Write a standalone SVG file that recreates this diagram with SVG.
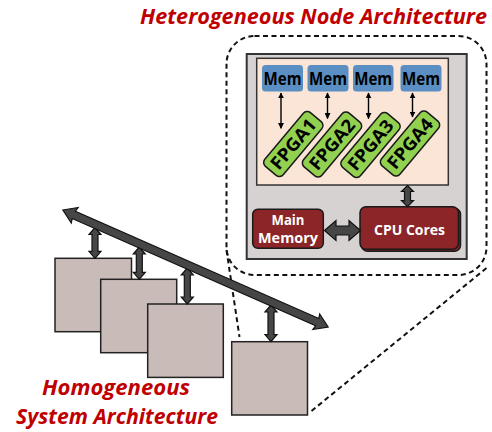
<svg xmlns="http://www.w3.org/2000/svg" width="492" height="432" viewBox="0 0 492 432">
  <style>
    text { font-family: "Open Sans", "Liberation Sans", Arial, sans-serif; font-weight: bold; }
    .title { fill: #c00000; font-style: italic; font-size: 22px; }
    .node-sq { fill: #c9bcb8; stroke: #222; stroke-width: 1.5; }
    .mem rect { fill: #5b8fc3; }
    .mem text { fill: #000; font-size: 17px; text-anchor: middle; }
    .fpga rect { fill: #92d050; stroke: #1a1a1a; stroke-width: 1.5; }
    .fpga text { fill: #000; font-size: 18px; text-anchor: middle; }
    .dram rect { fill: #8b2527; stroke: #1a1a1a; stroke-width: 1.5; }
    .dram text { fill: #fff; font-size: 13.5px; text-anchor: middle; }
    .fat { fill: #464646; stroke: #111; stroke-width: 1.2; stroke-linejoin: miter; }
    .thin { stroke: #000; stroke-width: 1.4; fill: none; marker-start: url(#tip); marker-end: url(#tip); }
    .dash { fill: none; stroke: #111; stroke-width: 2; stroke-dasharray: 5 3.5; }
  </style>
  <defs>
    <marker id="tip" viewBox="0 0 10 10" refX="9" refY="5" markerWidth="6" markerHeight="6" orient="auto-start-reverse" markerUnits="userSpaceOnUse">
      <path d="M0,0 L10,5 L0,10 Z" fill="#000"/>
    </marker>
  </defs>

  <rect width="492" height="432" fill="#fff"/>

  <!-- titles -->
  <text class="title" x="140" y="24" textLength="347" lengthAdjust="spacingAndGlyphs">Heterogeneous Node Architecture</text>
  <text class="title" x="116" y="395" text-anchor="middle" font-size="21" textLength="148" lengthAdjust="spacingAndGlyphs">Homogeneous</text>
  <text class="title" x="117" y="423.5" text-anchor="middle" font-size="21" textLength="202" lengthAdjust="spacingAndGlyphs">System Architecture</text>

  <!-- zoom call-out outline -->
  <g id="callout">
    <rect class="dash" x="226.5" y="36" width="260" height="239" rx="28"/>
    <line class="dash" x1="226.5" y1="250" x2="239.5" y2="337"/>
    <line class="dash" x1="311.5" y1="411" x2="486.5" y2="268"/>
  </g>

  <!-- node enclosure -->
  <g id="node">
    <rect x="246.7" y="54" width="220" height="205" fill="#d7d2d2" stroke="#333" stroke-width="2"/>
    <rect x="256.7" y="58.3" width="191.6" height="126.7" fill="#fbe5d6" stroke="#333" stroke-width="1.5"/>
  </g>

  <!-- local memories -->
  <g id="mem1" class="mem"><rect x="262" y="65" width="41" height="26.5" rx="3.5"/><text x="282.5" y="84.5" textLength="38" lengthAdjust="spacingAndGlyphs">Mem</text></g>
  <g id="mem2" class="mem"><rect x="307.5" y="65" width="41" height="26.5" rx="3.5"/><text x="328" y="84.5" textLength="38" lengthAdjust="spacingAndGlyphs">Mem</text></g>
  <g id="mem3" class="mem"><rect x="353" y="65" width="40.5" height="26.5" rx="3.5"/><text x="373.2" y="84.5" textLength="38" lengthAdjust="spacingAndGlyphs">Mem</text></g>
  <g id="mem4" class="mem"><rect x="400.5" y="65" width="41" height="26.5" rx="3.5"/><text x="421" y="84.5" textLength="38" lengthAdjust="spacingAndGlyphs">Mem</text></g>

  <!-- accelerators -->
  <g id="fpga1" class="fpga" transform="translate(293.3,144) rotate(-50)"><rect x="-35" y="-12" width="70" height="24" rx="5"/><text x="0" y="6.3" textLength="60" lengthAdjust="spacingAndGlyphs">FPGA1</text></g>
  <g id="fpga2" class="fpga" transform="translate(332,144.5) rotate(-50)"><rect x="-35" y="-12" width="70" height="24" rx="5"/><text x="0" y="6.3" textLength="60" lengthAdjust="spacingAndGlyphs">FPGA2</text></g>
  <g id="fpga3" class="fpga" transform="translate(370.5,145) rotate(-50)"><rect x="-35" y="-12" width="70" height="24" rx="5"/><text x="0" y="6.3" textLength="60" lengthAdjust="spacingAndGlyphs">FPGA3</text></g>
  <g id="fpga4" class="fpga" transform="translate(410,143.5) rotate(-50)"><rect x="-35" y="-12" width="70" height="24" rx="5"/><text x="0" y="6.3" textLength="60" lengthAdjust="spacingAndGlyphs">FPGA4</text></g>

  <!-- host side -->
  <g id="main-memory" class="dram"><rect x="252.7" y="209.3" width="70.6" height="39" rx="5"/><text x="288" y="224.5" textLength="33" lengthAdjust="spacingAndGlyphs">Main</text><text x="288" y="243" textLength="60" lengthAdjust="spacingAndGlyphs">Memory</text></g>
  <g id="cpu-cores" class="dram">
    <rect x="361.5" y="208.2" width="99" height="43" rx="6" fill="#6a1a1c" stroke="#6a6060"/>
    <rect x="360" y="206.7" width="98.5" height="42.5" rx="6"/>
    <text x="409.5" y="234.5" font-size="16" textLength="71" lengthAdjust="spacingAndGlyphs">CPU Cores</text>
  </g>

  <!-- cluster nodes -->
  <g id="sq1"><rect class="node-sq" x="55" y="258.3" width="76.5" height="73.4"/></g>
  <g id="sq2"><rect class="node-sq" x="100.7" y="279.3" width="76" height="73.4"/></g>
  <g id="sq3"><rect class="node-sq" x="147.7" y="304" width="75.6" height="73.4"/></g>
  <g id="sq4"><rect class="node-sq" x="231.7" y="341.7" width="75.8" height="73.3"/></g>

  <!-- links -->
  <g id="connectors">
    <line class="thin" x1="281" y1="93" x2="281" y2="128.3"/>
    <line class="thin" x1="327.5" y1="93" x2="327.5" y2="118.5"/>
    <line class="thin" x1="368.5" y1="93" x2="368.5" y2="118.5"/>
    <line class="thin" x1="412.5" y1="93" x2="412.5" y2="117"/>

    <path class="fat" d="M407.5,185.5 L413.5,191.5 L410.5,191.5 L410.5,200.7 L413.5,200.7 L407.5,206.7 L401.5,200.7 L404.5,200.7 L404.5,191.5 L401.5,191.5 Z"/>
    <path class="fat" d="M324.5,230.5 L336,220.5 L336,226 L349,226 L349,220.5 L360.5,230.5 L349,240.5 L349,235 L336,235 L336,240.5 Z"/>

    <path class="fat" d="M95,227.5 L101,234.5 L98,234.5 L98,251.3 L101,251.3 L95,258.3 L89,251.3 L92,251.3 L92,234.5 L89,234.5 Z"/>
    <path class="fat" d="M139.3,247 L145.3,254 L142.3,254 L142.3,272.3 L145.3,272.3 L139.3,279.3 L133.3,272.3 L136.3,272.3 L136.3,254 L133.3,254 Z"/>
    <path class="fat" d="M187.3,268 L193.3,275 L190.3,275 L190.3,297 L193.3,297 L187.3,304 L181.3,297 L184.3,297 L184.3,275 L181.3,275 Z"/>
    <path class="fat" d="M271,305 L277,312 L274,312 L274,334.7 L277,334.7 L271,341.7 L265,334.7 L268,334.7 L268,312 L265,312 Z"/>

    <!-- shared interconnect bus -->
    <path class="fat" transform="translate(195.5,268.5) rotate(23.78)" d="M-145,0 L-132,-8.5 L-133,-4 L133,-4 L132,-8.5 L145,0 L132,8.5 L133,4 L-133,4 L-132,8.5 Z"/>
  </g>
</svg>
